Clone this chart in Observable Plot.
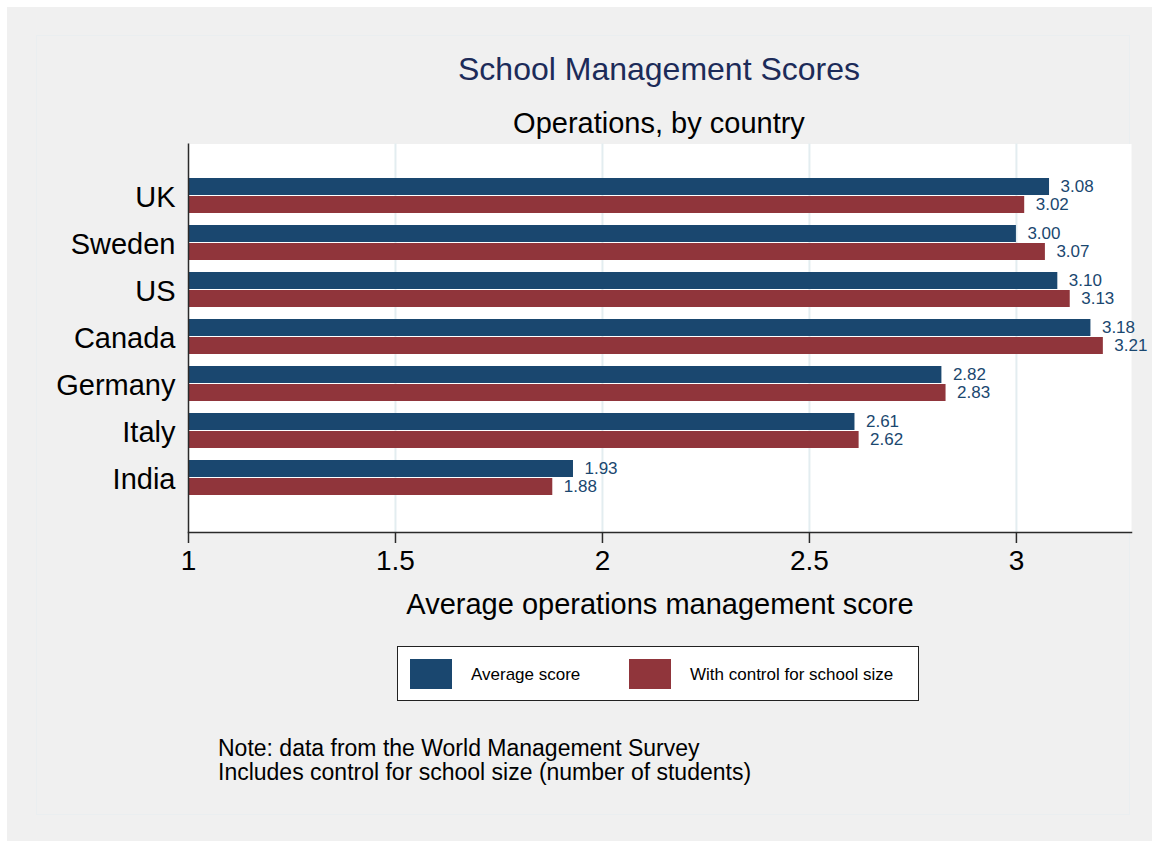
<!DOCTYPE html>
<html>
<head>
<meta charset="utf-8">
<script src="https://cdn.jsdelivr.net/npm/d3@7"></script>
<script src="https://cdn.jsdelivr.net/npm/@observablehq/plot@0.6"></script>
<style>
  html, body { margin: 0; padding: 0; background: #ffffff; }
  body { width: 1152px; height: 841px; position: relative; overflow: hidden; font-family: "Liberation Sans", Arial, Helvetica, sans-serif; }
  #bg { position: absolute; left: 7px; top: 7px; width: 1145px; height: 834px; background: #f0f0f0; }
  #inner { position: absolute; left: 36px; top: 35px; width: 1094px; height: 780px; border: 1px solid #eaeef0; box-sizing: border-box; }
  .t { position: absolute; white-space: nowrap; line-height: 1; }
  #title { left: 0; width: 1318px; text-align: center; top: 53px; font-size: 32px; color: #1c2b59; }
  #subtitle { left: 0; width: 1318px; text-align: center; top: 109px; font-size: 29px; color: #000; }
  #chart { position: absolute; left: 0; top: 0; }
  #legend { position: absolute; left: 397px; top: 646px; width: 522px; height: 55px; box-sizing: border-box; border: 1.5px solid #222; background: #fff; }
  .sw { position: absolute; top: 12px; width: 42px; height: 30px; }
  .lt { position: absolute; top: 19px; font-size: 17px; line-height: 17px; color: #000; }
  #note { left: 218px; top: 737px; font-size: 23px; color: #000; }
  #note div { line-height: 23.5px; height: 23.5px; }
</style>
</head>
<body>
<div id="bg"></div>
<div id="inner"></div>
<div id="chart"></div>
<div id="title" class="t">School Management Scores</div>
<div id="subtitle" class="t">Operations, by country</div>
<div id="legend"></div>
<div id="note" class="t"></div>
<script>
// ---- data ----
const countries = ["UK", "Sweden", "US", "Canada", "Germany", "Italy", "India"];
const averageScore = [3.08, 3.00, 3.10, 3.18, 2.82, 2.61, 1.93];
const controlScore = [3.02, 3.07, 3.13, 3.21, 2.83, 2.62, 1.88];
const seriesNames = ["Average score", "With control for school size"];
const xTicks = [1, 1.5, 2, 2.5, 3];
const noteLines = ["Note: data from the World Management Survey", "Includes control for school size (number of students)"];

const blue = "#1a476f";
const red = "#90353b";

const rows = countries.map((c, i) => ({country: c, avg: averageScore[i], ctrl: controlScore[i]}));

const chart = Plot.plot({
  width: 1152,
  height: 640,
  marginLeft: 188,
  marginRight: 21,
  marginTop: 143.5,
  marginBottom: 108,
  style: {background: "transparent", fontFamily: "Liberation Sans, Arial, sans-serif", overflow: "visible"},
  x: {domain: [1, 3.278]},
  y: {domain: countries, paddingInner: 0.245, paddingOuter: 0.69, align: 0.49},
  marks: [
    Plot.frame({fill: "white", stroke: null}),
    Plot.gridX(xTicks.slice(1), {stroke: "#e3edf0", strokeOpacity: 1, strokeWidth: 2}),
    Plot.barX(rows, {x1: () => 1, x2: "avg", y: "country", fill: blue, insetBottom: 18}),
    Plot.barX(rows, {x1: () => 1, x2: "ctrl", y: "country", fill: red, insetTop: 18}),
    Plot.text(rows, {x: "avg", y: "country", text: d => d.avg.toFixed(2), dx: 11, dy: -9, textAnchor: "start", fill: blue, fontSize: 17}),
    Plot.text(rows, {x: "ctrl", y: "country", text: d => d.ctrl.toFixed(2), dx: 11, dy: 9, textAnchor: "start", fill: blue, fontSize: 17}),
    Plot.ruleX([1], {stroke: "#2a2a2a", strokeWidth: 1.5}),
    Plot.frame({anchor: "bottom", stroke: "#2a2a2a", strokeWidth: 1.5}),
    Plot.axisY({tickSize: 0, tickPadding: 13, fontSize: 29, label: null, fill: "#000", dy: 2}),
    Plot.axisX({ticks: xTicks, tickSize: 11, tickPadding: 7, fontSize: 28, tickFormat: d => String(d),
      stroke: "#2a2a2a", strokeWidth: 1.5, label: null}),
    Plot.axisX({ticks: [], tickSize: 0, fontSize: 29, fill: "#000",
      label: "Average operations management score", labelAnchor: "center", labelArrow: "none", labelOffset: 81})
  ]
});
document.getElementById("chart").appendChild(chart);

// legend
const legend = document.getElementById("legend");
const swLeft = [12, 231];
const txLeft = [73, 292];
[blue, red].forEach((col, i) => {
  const s = document.createElement("div");
  s.className = "sw"; s.style.left = swLeft[i] + "px"; s.style.background = col;
  legend.appendChild(s);
  const t = document.createElement("div");
  t.className = "lt"; t.style.left = txLeft[i] + "px"; t.textContent = seriesNames[i];
  legend.appendChild(t);
});

// note
const note = document.getElementById("note");
noteLines.forEach(l => { const d = document.createElement("div"); d.textContent = l; note.appendChild(d); });
</script>
</body>
</html>
